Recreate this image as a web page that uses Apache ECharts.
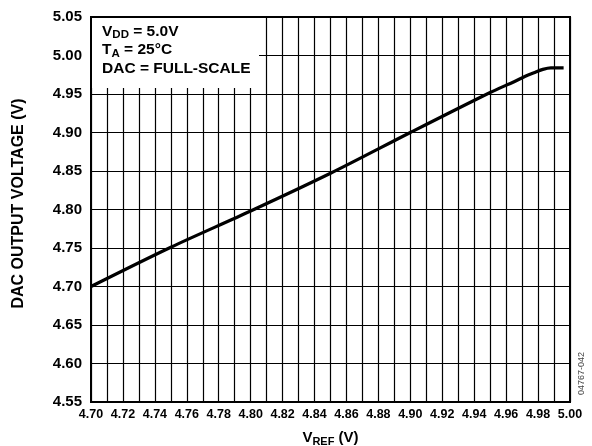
<!DOCTYPE html>
<html>
<head>
<meta charset="utf-8">
<script src="https://cdn.jsdelivr.net/npm/echarts@6/dist/echarts.min.js"></script>
<style>html,body{margin:0;padding:0;background:#fff;}#c{width:592px;height:446px;}</style>
</head>
<body>
<div id="c"></div>
<script>
var vref = [4.700, 4.750, 4.800, 4.850, 4.900, 4.950, 4.965, 4.972, 4.978, 4.983, 4.988, 4.996];
var vout = [4.700, 4.751, 4.798, 4.847, 4.900, 4.952, 4.966, 4.973, 4.978, 4.982, 4.984, 4.984];
var xTicks = ['4.70','4.72','4.74','4.76','4.78','4.80','4.82','4.84','4.86','4.88','4.90','4.92','4.94','4.96','4.98','5.00'];
var yTicks = ['4.55','4.60','4.65','4.70','4.75','4.80','4.85','4.90','4.95','5.00','5.05'];
var notes = ['{b|V}{s|DD}{b| = 5.0V}', '{b|T}{s|A}{b| = 25°C}', '{b|DAC = FULL-SCALE}'];

var FONT = '"Liberation Sans", Arial, sans-serif';
var chart = echarts.init(document.getElementById('c'), null, {renderer: 'canvas'});
var pts = vref.map(function (x, i) { return [x, vout[i]]; });

chart.setOption({
  animation: false,
  backgroundColor: '#fff',
  grid: {left: 91, right: 22, top: 17, bottom: 44, show: true, borderColor: '#000', borderWidth: 2,
         backgroundColor: 'transparent', containLabel: false, outerBoundsMode: 'none'},
  xAxis: {
    type: 'value', min: 4.70, max: 5.00, interval: 0.01,
    axisLine: {show: false}, axisTick: {show: false},
    splitLine: {show: true, lineStyle: {color: '#000', width: 1.2}},
    axisLabel: {
      margin: 6, color: '#000', fontFamily: FONT, fontWeight: 'bold', fontSize: 12.5,
      formatter: function (v) {
        var s = v.toFixed(2);
        return xTicks.indexOf(s) >= 0 ? s : '';
      }
    },
    name: '{b|V}{s|REF}{b| (V)}', nameLocation: 'middle', nameGap: 27,
    nameTextStyle: {rich: {
      b: {fontFamily: FONT, fontWeight: 'bold', fontSize: 15, color: '#000'},
      s: {fontFamily: FONT, fontWeight: 'bold', fontSize: 11, color: '#000', verticalAlign: 'bottom', padding: [7, 0, 0, 0]}
    }}
  },
  yAxis: {
    type: 'value', min: 4.55, max: 5.05, interval: 0.05,
    axisLine: {show: false}, axisTick: {show: false},
    splitLine: {show: true, lineStyle: {color: '#000', width: 1.2}},
    axisLabel: {
      margin: 9, color: '#000', fontFamily: FONT, fontWeight: 'bold', fontSize: 15,
      formatter: function (v) {
        var s = v.toFixed(2);
        return yTicks.indexOf(s) >= 0 ? s : '';
      }
    },
    name: 'DAC OUTPUT VOLTAGE (V)', nameLocation: 'middle', nameGap: 64, nameRotate: 90,
    nameTextStyle: {fontFamily: FONT, fontWeight: 'bold', fontSize: 16, color: '#000', padding: [0, 0, 0, 12]}
  },
  graphic: [
    {type: 'rect', z: 50, shape: {x: 92, y: 18, width: 167, height: 70}, style: {fill: '#fff'}},
    {type: 'text', z: 51, left: 102, top: 22, style: {
      text: notes.join('\n'),
      lineHeight: 18.5,
      rich: {
        b: {fontFamily: FONT, fontWeight: 'bold', fontSize: 15.5, color: '#000', lineHeight: 18.5},
        s: {fontFamily: FONT, fontWeight: 'bold', fontSize: 11.5, color: '#000', padding: [7, 0, 0, 0], lineHeight: 18.5}
      }
    }},
    {type: 'text', z: 51, x: 577, y: 395, rotation: Math.PI / 2, style: {
      text: '04767-042', fontFamily: FONT, fontSize: 9, fill: '#444'
    }}
  ],
  series: [{
    type: 'line', data: pts, showSymbol: false, smooth: 0.3, z: 60,
    lineStyle: {color: '#000', width: 3.2}
  }]
});
</script>
</body>
</html>
